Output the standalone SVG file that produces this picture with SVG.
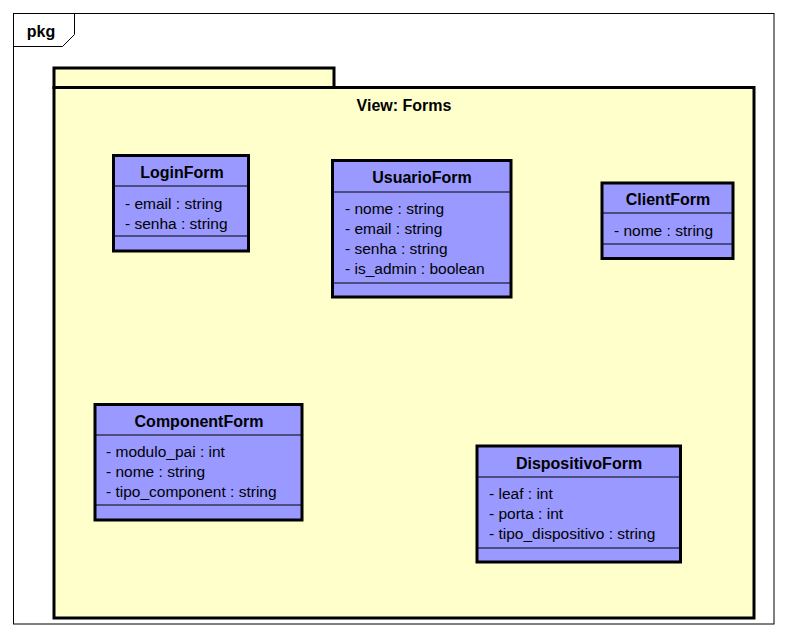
<svg xmlns="http://www.w3.org/2000/svg" width="788" height="638" viewBox="0 0 788 638">
  <style>
    .frame { fill: #ffffff; stroke: #000000; stroke-width: 1; }
    .pkg { fill: #ffffcc; stroke: #000000; stroke-width: 3; }
    .cls { fill: #9999ff; stroke: #000000; stroke-width: 3; }
    .sep { stroke: #000000; stroke-width: 1; }
    .title { font-family: "Liberation Sans", Arial, sans-serif; font-size: 16px; font-weight: bold; fill: #000000; text-anchor: middle; }
    .attr { font-family: "Liberation Sans", Arial, sans-serif; font-size: 15.5px; fill: #000000; }
  </style>

  <!-- diagram frame -->
  <g id="frame">
    <rect class="frame" x="13.5" y="13.5" width="760.5" height="610.5"/>
    <path d="M13.5,46.5 L62.5,46.5 L74.5,34.5 L74.5,13.5" fill="none" stroke="#000" stroke-width="1"/>
    <text class="title" x="41" y="37" text-anchor="middle">pkg</text>
  </g>

  <!-- package View: Forms -->
  <g id="package-view-forms">
    <rect class="pkg" x="54" y="68" width="280" height="19.5"/>
    <rect class="pkg" x="54" y="87.5" width="700" height="530.5"/>
    <text class="title" x="404" y="110.5">View: Forms</text>
  </g>

  <g id="LoginForm">
    <rect class="cls" x="113.5" y="155.5" width="135" height="95.5"/>
    <line class="sep" x1="113.5" y1="186" x2="248.5" y2="186"/>
    <line class="sep" x1="113.5" y1="236" x2="248.5" y2="236"/>
    <text class="title" x="182" y="178">LoginForm</text>
    <text class="attr" x="125" y="209">- email : string</text>
    <text class="attr" x="125" y="229">- senha : string</text>
  </g>

  <g id="UsuarioForm">
    <rect class="cls" x="332.5" y="160.5" width="178.5" height="136.5"/>
    <line class="sep" x1="332.5" y1="192" x2="511" y2="192"/>
    <line class="sep" x1="332.5" y1="283" x2="511" y2="283"/>
    <text class="title" x="422" y="183">UsuarioForm</text>
    <text class="attr" x="345" y="214">- nome : string</text>
    <text class="attr" x="345" y="234">- email : string</text>
    <text class="attr" x="345" y="254">- senha : string</text>
    <text class="attr" x="345" y="274">- is_admin : boolean</text>
  </g>

  <g id="ClientForm">
    <rect class="cls" x="602" y="183" width="131" height="75.5"/>
    <line class="sep" x1="602" y1="213" x2="733" y2="213"/>
    <line class="sep" x1="602" y1="244" x2="733" y2="244"/>
    <text class="title" x="668" y="205">ClientForm</text>
    <text class="attr" x="614" y="236">- nome : string</text>
  </g>

  <g id="ComponentForm">
    <rect class="cls" x="95" y="404.5" width="207" height="115.5"/>
    <line class="sep" x1="95" y1="435" x2="302" y2="435"/>
    <line class="sep" x1="95" y1="505" x2="302" y2="505"/>
    <text class="title" x="199" y="427">ComponentForm</text>
    <text class="attr" x="106" y="457">- modulo_pai : int</text>
    <text class="attr" x="106" y="477">- nome : string</text>
    <text class="attr" x="106" y="497">- tipo_component : string</text>
  </g>

  <g id="DispositivoForm">
    <rect class="cls" x="477" y="446" width="203.5" height="116"/>
    <line class="sep" x1="477" y1="477" x2="680.5" y2="477"/>
    <line class="sep" x1="477" y1="548" x2="680.5" y2="548"/>
    <text class="title" x="579" y="469">DispositivoForm</text>
    <text class="attr" x="489" y="499">- leaf : int</text>
    <text class="attr" x="489" y="519">- porta : int</text>
    <text class="attr" x="489" y="539">- tipo_dispositivo : string</text>
  </g>

  <!-- no connectors between these classes -->
  <g id="connectors"/>
</svg>
